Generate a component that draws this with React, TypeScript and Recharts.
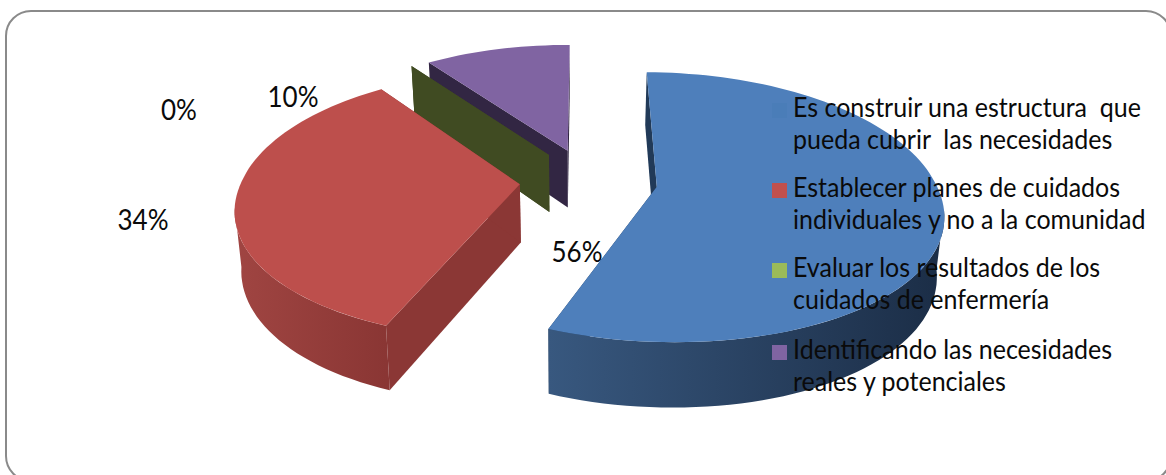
import { PieChart, Pie, Legend } from "recharts";

const NAMES = [
  "Es construir una estructura  que pueda cubrir  las necesidades",
  "Establecer planes de cuidados individuales y no a la comunidad",
  "Evaluar los resultados de los cuidados de enfermería",
  "Identificando las necesidades reales y potenciales",
];
const VALUES = [56, 34, 0, 10];

const FACE_COLORS = ["#4e7fbb", "#bd4f4c", "#9bbb59", "#8064a2"];
const LEGEND_COLORS = ["#4a7db8", "#c0504d", "#9bbb59", "#8064a2"];
const CUT_COLORS = ["#213a58", "#8b3735", "#404b22", "#322643"];
const RIM_FROM = ["#38587f", "#a04542", "#404b22", "#322643"];
const RIM_TO = ["#1b2d46", "#8a3634", "#404b22", "#322643"];

// Perspective settings of the extruded pie
const VANISH_X = 570;
const TILT = 130 / 278;
const DEPTH_KX_NEAR = 0.17;
const DEPTH_KX_FAR = 0.155;
const DEPTH_KY = 0.15;
const EXPLODE = 0.248;
const THICKNESS = 58;
const BOTTOM_SCALE = 0.98;
const RIM_FRONT = [100, 260];

const LABEL_POS: Record<string, [number, number]> = {
  [NAMES[0]]: [577, 251],
  [NAMES[1]]: [143, 219],
  [NAMES[2]]: [179, 109],
  [NAMES[3]]: [293, 96],
};

const LEGEND_TOPS = [91, 171, 251, 333];

// drawn back to front, so the pie goes counterclockwise from the top
const chartData = NAMES.map((name, i) => ({
  name,
  value: VALUES[i],
  fill: FACE_COLORS[i],
  cut: CUT_COLORS[i],
  rimFrom: RIM_FROM[i],
  rimTo: RIM_TO[i],
  id: i,
})).reverse();

function Slice3D(props: any) {
  const { cx, cy, outerRadius, startAngle, endAngle, payload, fill } = props;
  const from = 90 - Math.max(startAngle, endAngle) + 360;
  const to = 90 - Math.min(startAngle, endAngle) + 360;
  const mid = (((from + to) / 2) * Math.PI) / 180;
  const offX = Math.sin(mid) * EXPLODE;
  const offY = Math.cos(mid) * EXPLODE;

  // plane coordinates (in radii) to the screen, bottom face when low is set
  const project = (x: number, y: number, low = false) => {
    const kx = y > 0 ? DEPTH_KX_FAR : DEPTH_KX_NEAR;
    const sx = VANISH_X + (cx - VANISH_X + outerRadius * x) / (1 + kx * y);
    const w = 1 + DEPTH_KY * y;
    const sy = cy - (outerRadius * TILT * y) / w;
    if (!low) return [sx, sy];
    return [
      VANISH_X + (sx - VANISH_X) * BOTTOM_SCALE,
      sy + THICKNESS / Math.pow(w, 0.7),
    ];
  };
  const rim = (deg: number, low = false) => {
    const a = (deg * Math.PI) / 180;
    return project(offX + Math.sin(a), offY + Math.cos(a), low);
  };
  const pts = (list: number[][]) =>
    list.map((p) => `${p[0].toFixed(1)},${p[1].toFixed(1)}`).join(" ");
  const sweep = (a: number, b: number, low = false) => {
    const steps = Math.max(1, Math.ceil((b - a) / 2));
    const out: number[][] = [];
    for (let i = 0; i <= steps; i++) out.push(rim(a + ((b - a) * i) / steps, low));
    return out;
  };

  const apexTop = project(offX, offY);
  const apexLow = project(offX, offY, true);
  const top = sweep(from, to);

  // only the part of the rim that faces the viewer gets a wall
  const frontFrom = Math.max(from, RIM_FRONT[0]);
  const frontTo = Math.min(to, RIM_FRONT[1]);
  const hasRim = frontTo > frontFrom;
  const wallTop = hasRim ? sweep(frontFrom, frontTo) : [];
  const wallLow = hasRim ? sweep(frontFrom, frontTo, true) : [];
  const xs = wallTop.map((p) => p[0]);
  const gradId = `rim-${payload.id}`;

  return (
    <g>
      {hasRim && (
        <defs>
          <linearGradient
            id={gradId}
            gradientUnits="userSpaceOnUse"
            x1={Math.min(...xs)}
            x2={Math.max(...xs)}
            y1={0}
            y2={0}
          >
            <stop offset="0%" stopColor={payload.rimFrom} />
            <stop offset="100%" stopColor={payload.rimTo} />
          </linearGradient>
        </defs>
      )}
      <polygon
        points={pts([apexTop, rim(from), rim(from, true), apexLow])}
        fill={payload.cut}
      />
      <polygon
        points={pts([apexTop, rim(to), rim(to, true), apexLow])}
        fill={payload.cut}
      />
      {hasRim && (
        <polygon
          points={pts([...wallTop, ...wallLow.slice().reverse()])}
          fill={`url(#${gradId})`}
        />
      )}
      {to - from > 0 && <polygon points={pts([apexTop, ...top])} fill={fill} />}
    </g>
  );
}

function renderPercent(props: any) {
  const [x, y] = LABEL_POS[props.name];
  return (
    <text
      transform={`translate(${x} ${y}) scale(1 1.1)`}
      textAnchor="middle"
      dominantBaseline="central"
      fontFamily="Lato, sans-serif"
      fontSize={26}
      fill="#0a0a0a"
    >
      {`${props.value}%`}
    </text>
  );
}

function SideLegend() {
  return (
    <div
      style={{
        position: "absolute",
        left: 0,
        top: 0,
        width: 1166,
        height: 475,
        fontFamily: "Lato, sans-serif",
        fontSize: 25,
        lineHeight: "29px",
        color: "#0a0a0a",
      }}
    >
      {NAMES.map((name, i) => (
        <div key={name}>
          <div
            style={{
              position: "absolute",
              left: 772,
              top: LEGEND_TOPS[i] + 12,
              width: 15,
              height: 15,
              background: LEGEND_COLORS[i],
            }}
          />
          <div
            style={{
              position: "absolute",
              left: 793,
              top: LEGEND_TOPS[i],
              width: 368,
              whiteSpace: "pre-wrap",
              transform: "scale(1, 1.1)",
              transformOrigin: "0 0",
            }}
          >
            {name}
          </div>
        </div>
      ))}
    </div>
  );
}

export default function App() {
  return (
    <div
      style={{
        position: "absolute",
        left: 0,
        top: 0,
        width: 1166,
        height: 475,
        overflow: "hidden",
        background: "#fff",
      }}
    >
      <div
        style={{
          position: "absolute",
          left: 5,
          top: 10,
          width: 1167,
          height: 472,
          border: "2px solid #8a8a8a",
          borderRadius: 26,
          boxSizing: "border-box",
        }}
      />
      <PieChart
        width={1166}
        height={475}
        margin={{ top: 0, right: 0, bottom: 0, left: 0 }}
        style={{ position: "absolute", left: 0, top: 0 }}
      >
        <Pie
          data={chartData}
          dataKey="value"
          nameKey="name"
          cx={588.5}
          cy={180.5}
          outerRadius={278}
          startAngle={89.6}
          endAngle={449.6}
          stroke="none"
          shape={Slice3D}
          label={renderPercent}
          labelLine={false}
          isAnimationActive={false}
        />
        <Legend
          content={<SideLegend />}
          wrapperStyle={{ left: 0, top: 0, width: 1166, height: 475 }}
        />
      </PieChart>
    </div>
  );
}
